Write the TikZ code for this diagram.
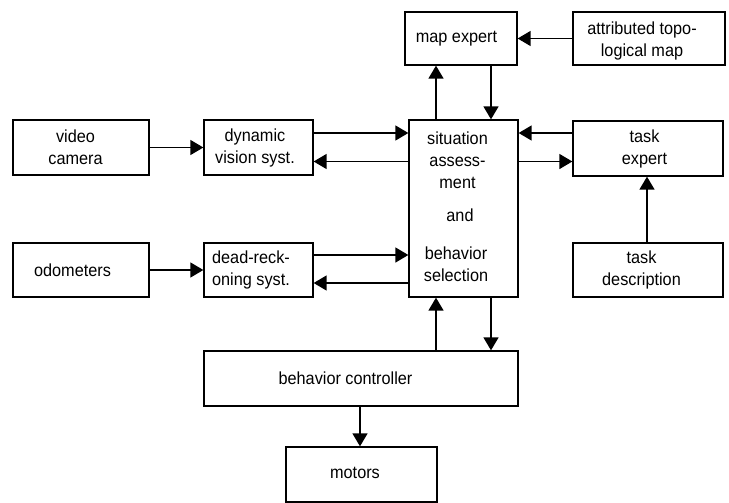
\documentclass[tikz,border=0pt]{standalone}
\usepackage{fontspec}
\setmainfont{Liberation Sans}[FakeStretch=0.93]
\usetikzlibrary{arrows.meta}
\begin{document}
\begin{tikzpicture}[x=1pt,y=-1pt,
  box/.style={draw, line width=1.3pt, inner sep=0pt},
  lbl/.style={inner sep=0pt, align=center, font=\fontsize{17.5}{22}\selectfont},
  arr/.style={line width=1.4pt, -{Triangle[length=13pt,width=15pt]}}]
\useasboundingbox[fill=white] (0,0) rectangle (729,503);
% boxes
\node[box, minimum width=112pt, minimum height=53pt] (mapexp) at (461,38.5) {};
\node[box, minimum width=152pt, minimum height=53pt] (attr) at (649,38.5) {};
\node[box, minimum width=136pt, minimum height=55pt] (video) at (81,147.5) {};
\node[box, minimum width=109pt, minimum height=55pt] (dvs) at (258.5,147.5) {};
\node[box, minimum width=136pt, minimum height=54pt] (odo) at (81,270) {};
\node[box, minimum width=109pt, minimum height=54pt] (drs) at (258.5,270) {};
\node[box, minimum width=109pt, minimum height=177pt] (sit) at (463.5,208.5) {};
\node[box, minimum width=150pt, minimum height=55pt] (task) at (648,148.5) {};
\node[box, minimum width=150pt, minimum height=54pt] (taskd) at (648,270) {};
\node[box, minimum width=314pt, minimum height=55pt] (bc) at (361,378.5) {};
\node[box, minimum width=151pt, minimum height=55pt] (motors) at (361.5,474.5) {};
% labels
\node[lbl] (tmap) at (456.5,38.5) {map expert};
\node[lbl] (tattr) at (642,41) {attributed topo-\\logical map};
\node[lbl] (tvideo) at (75.5,147.5) {video\\camera};
\node[lbl] (tdvs) at (255,147.5) {dynamic\\vision syst.};
\node[lbl] (todo) at (72.5,270) {odometers};
\node[lbl] (tdrs) at (251,270) {dead-reck-\\oning syst.};
\node[lbl] (tsit) at (457.5,160) {situation\\assess-\\ment};
\node[lbl] (tand) at (460,215) {and};
\node[lbl] (tbeh) at (456,264) {behavior\\selection};
\node[lbl] (ttask) at (644.5,148.5) {task\\expert};
\node[lbl] (ttaskd) at (641.5,270) {task\\description};
\node[lbl] (tbc) at (345.5,378) {behavior controller};
\node[lbl] (tmot) at (355,473) {motors};
% helper coordinates
\coordinate (xa) at (436,0);
\coordinate (xb) at (491,0);
\coordinate (xc) at (647,0);
\coordinate (xd) at (360,0);
\coordinate (y1) at (0,133);
\coordinate (y2) at (0,161.5);
\coordinate (y3) at (0,255);
\coordinate (y4) at (0,283);
% connectors
\draw[arr] (attr.west) -- (mapexp.east);
\draw[arr] (sit.north -| xa) -- (mapexp.south -| xa);
\draw[arr] (mapexp.south -| xb) -- (sit.north -| xb);
\draw[arr] (video.east) -- (dvs.west);
\draw[arr] (dvs.east |- y1) -- (sit.west |- y1);
\draw[arr] (sit.west |- y2) -- (dvs.east |- y2);
\draw[arr] (odo.east) -- (drs.west);
\draw[arr] (drs.east |- y3) -- (sit.west |- y3);
\draw[arr] (sit.west |- y4) -- (drs.east |- y4);
\draw[arr] (task.west |- y1) -- (sit.east |- y1);
\draw[arr] (sit.east |- y2) -- (task.west |- y2);
\draw[arr] (taskd.north -| xc) -- (task.south -| xc);
\draw[arr] (bc.north -| xa) -- (sit.south -| xa);
\draw[arr] (sit.south -| xb) -- (bc.north -| xb);
\draw[arr] (bc.south -| xd) -- (motors.north -| xd);
\end{tikzpicture}
\end{document}
